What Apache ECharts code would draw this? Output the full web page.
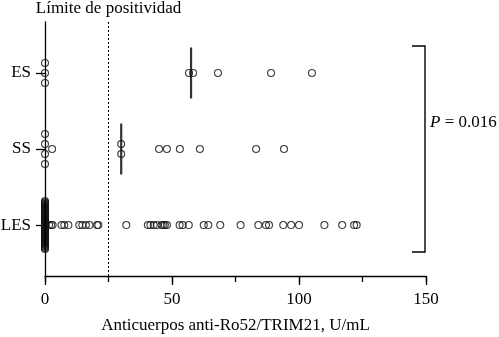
<!DOCTYPE html>
<html>
<head>
<meta charset="utf-8">
<script src="https://cdn.jsdelivr.net/npm/echarts@6/dist/echarts.min.js"></script>
<style>
  html, body { margin: 0; padding: 0; background: #fff; }
  #chartContainer { width: 499px; height: 337px; }
</style>
</head>
<body>
<div id="chartContainer"></div>
<script>
// grupos (de abajo hacia arriba)
var categories = ['LES', 'SS', 'ES'];

// valores U/mL
var esValues = [0, 0, 0, 56.7, 58.3, 68.1, 89, 105.1];
var ssValues = [0, 0, 0, 0, 2.8, 30, 30, 44.9, 48, 53.1, 61, 83.1, 94.1];
var lesZeros = [0, 0, 0, 0, 0, 0, 0, 0, 0, 0, 0, 0, 0, 0, 0, 0, 0, 0, 0, 0, 0,
                0, 0, 0, 0, 0, 0, 0, 0, 0, 0, 0, 0, 0, 0, 0, 0, 0, 0, 0, 0, 0];
var lesPositive = [1.6, 2.4, 3.0, 6.5, 7.6, 9.2, 13.5, 14.7, 16.1, 17.5, 20.5, 21,
                   32, 40.5, 41.5, 42.8, 44, 45.9, 46.6, 47.2, 48, 53, 54.2, 56.6,
                   62.5, 64.3, 69, 77, 84, 87, 88.2, 93.8, 96.9, 100, 110, 117,
                   121.7, 122.7];
var lesValues = lesZeros.concat(lesPositive);

var cutoff = 25;
var pText = '0.016';

var font = 'Liberation Serif, Times New Roman, serif';

function median(arr){
    var s = arr.slice().sort(function(a, b){ return a - b; });
    var n = s.length;
    return n % 2 ? s[(n - 1) / 2] : (s[n / 2 - 1] + s[n / 2]) / 2;
}

// puntos repetidos se apilan en vertical (como GraphPad)
function scatterPoints(arr, cat){
    var groups = {};
    arr.forEach(function(v){ groups[v] = (groups[v] || 0) + 1; });
    var seen = {};
    return arr.map(function(v){
        var n = groups[v];
        var i = seen[v] || 0;
        seen[v] = i + 1;
        var step = n > 1 ? Math.min(10, 48 / (n - 1)) : 0;
        return { value: [v, cat], symbolOffset: [0, (i - (n - 1) / 2) * step] };
    });
}

var allPoints = []
    .concat(scatterPoints(lesValues, 0))
    .concat(scatterPoints(ssValues, 1))
    .concat(scatterPoints(esValues, 2));

var medians = [
    [median(lesValues), 0],
    [median(ssValues), 1],
    [median(esValues), 2]
];

var myChar = echarts.init(document.getElementById('chartContainer'));
var options = {
    animation: false,
    backgroundColor: '#fff',
    textStyle: { fontFamily: font, color: '#000' },
    grid: { left: 45, right: 73, top: 22, bottom: 61, containLabel: false, outerBoundsMode: 'none' },
    xAxis: [
        {
            type: 'value',
            min: 0,
            max: 150,
            interval: 50,
            name: 'Anticuerpos anti-Ro52/TRIM21, U/mL',
            nameLocation: 'middle',
            nameGap: 41,
            nameTextStyle: { fontFamily: font, fontSize: 17, color: '#000' },
            axisLine: { onZero: false, lineStyle: { color: '#000', width: 1.3 } },
            axisTick: { length: 9, lineStyle: { color: '#000', width: 1.3 } },
            axisLabel: { fontFamily: font, fontSize: 17, color: '#000', margin: 15 },
            splitLine: { show: false },
            z: 3
        },
        {
            // marcas intermedias (25, 75, 125)
            type: 'value',
            position: 'bottom',
            min: 0,
            max: 150,
            interval: 25,
            axisLine: { show: false, onZero: false },
            axisTick: { length: 6, lineStyle: { color: '#000', width: 1.3 } },
            axisLabel: { show: false },
            splitLine: { show: false },
            z: 2
        }
    ],
    yAxis: {
        type: 'value',
        min: -0.67,
        max: 2.67,
        axisLine: { show: true, onZero: false, lineStyle: { color: '#000', width: 1.3 } },
        axisTick: { show: true, length: 9, customValues: [0, 1, 2], lineStyle: { color: '#000', width: 1.3 } },
        axisLabel: {
            fontFamily: font, fontSize: 17, color: '#000', margin: 14,
            customValues: [0, 1, 2],
            formatter: function(v){ return categories[Math.round(v)]; }
        },
        splitLine: { show: false }
    },
    series: [
        {
            name: 'puntos',
            type: 'scatter',
            symbol: 'circle',
            symbolSize: 7,
            itemStyle: { color: 'rgba(0,0,0,0)', borderColor: '#111', borderWidth: 1.1 },
            data: allPoints,
            markLine: {
                silent: true,
                symbol: 'none',
                lineStyle: { type: [2, 2], color: '#000', width: 1 },
                label: {
                    show: true,
                    position: 'end',
                    formatter: 'Límite de positividad',
                    fontFamily: font, fontSize: 17, color: '#000', distance: 5
                },
                data: [{ xAxis: cutoff }]
            },
            z: 3
        },
        {
            name: 'mediana',
            type: 'scatter',
            symbol: 'rect',
            symbolSize: [2.2, 51],
            itemStyle: { color: '#000' },
            data: medians,
            z: 4
        }
    ]
};
myChar.setOption(options);

// corchete de comparacion y valor P
var pTop = myChar.convertToPixel({ xAxisIndex: 0, yAxisIndex: 0 }, [150, 2]);
var pBot = myChar.convertToPixel({ xAxisIndex: 0, yAxisIndex: 0 }, [150, 0]);
var bx = pTop[0] - 1, by0 = pTop[1] - 27, by1 = pBot[1] + 27;
myChar.setOption({
    graphic: [
        {
            type: 'polyline',
            shape: { points: [[bx - 13, by0], [bx, by0], [bx, by1], [bx - 13, by1]] },
            style: { stroke: '#000', lineWidth: 1.4, fill: null }
        },
        {
            type: 'text',
            x: bx + 5,
            y: by0 + (by1 - by0) * 0.37,
            style: {
                text: '{i|P} = ' + pText,
                fontFamily: font, fontSize: 17, fill: '#000',
                verticalAlign: 'middle', align: 'left',
                rich: { i: { fontStyle: 'italic', fontFamily: font, fontSize: 17 } }
            }
        }
    ]
});
</script>
</body>
</html>
